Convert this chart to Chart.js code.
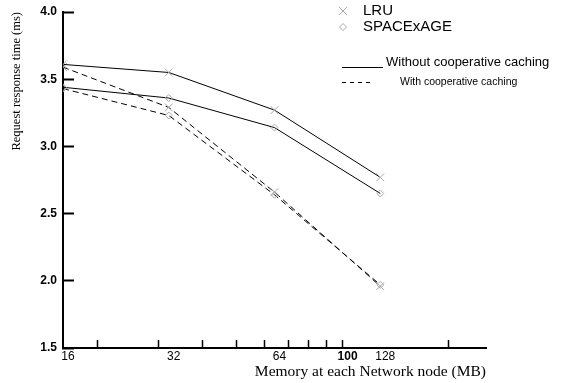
<!DOCTYPE html>
<html>
<head>
<meta charset="utf-8">
<script src="https://cdn.jsdelivr.net/npm/chart.js@4/dist/chart.umd.min.js"></script>
<style>
  html, body { margin: 0; padding: 0; background: #fff; }
  #chart { display: block; }
</style>
</head>
<body>
<canvas id="chart" width="564" height="383"></canvas>
<script>
// Memory sizes (MB) on the log x axis
const memorySizes = [16, 32, 64, 128];

// Request response time (ms)
const lruWithout = [3.61, 3.55, 3.27, 2.77];
const spaceWithout = [3.44, 3.36, 3.14, 2.65];
const lruWith = [3.59, 3.29, 2.66, 1.96];
const spaceWith = [3.43, 3.23, 2.64, 1.97];

// x axis: where the tick marks sit, and which values get a label
const xTickMarks = [20, 30, 40, 50, 60, 70, 80, 90, 100, 200];
const xTickLabels = [16, 32, 64, 100, 128];
const yTicks = [1.5, 2.0, 2.5, 3.0, 3.5, 4.0];

const markerGray = '#a8a8a8';

// Build one line dataset
function series(label, values, marker, dashed) {
  return {
    label: label,
    data: memorySizes.map((m, i) => ({ x: m, y: values[i] })),
    borderColor: '#000',
    borderWidth: 1,
    borderDash: dashed ? [6, 4] : [],
    pointStyle: marker,
    pointRadius: marker === 'crossRot' ? 5.5 : 3.5,
    pointBorderColor: markerGray,
    pointBackgroundColor: 'rgba(0,0,0,0)',
    pointBorderWidth: 1,
    tension: 0
  };
}

// Hand-drawn legend in the top right, like the original figure
const figureLegend = {
  id: 'figureLegend',
  afterDraw(chart) {
    const ctx = chart.ctx;
    ctx.save();
    ctx.strokeStyle = markerGray;
    ctx.lineWidth = 1;

    // x marker
    ctx.beginPath();
    ctx.moveTo(339, 7); ctx.lineTo(347, 15);
    ctx.moveTo(347, 7); ctx.lineTo(339, 15);
    ctx.stroke();
    // diamond marker
    ctx.beginPath();
    ctx.moveTo(339.5, 27); ctx.lineTo(343, 23.5); ctx.lineTo(346.5, 27); ctx.lineTo(343, 30.5);
    ctx.closePath();
    ctx.stroke();

    ctx.fillStyle = '#000';
    ctx.textBaseline = 'middle';
    ctx.font = '15px "Liberation Sans", Arial, sans-serif';
    ctx.fillText('LRU', 363, 11);
    ctx.fillText('SPACExAGE', 363, 27);

    ctx.strokeStyle = '#000';
    ctx.beginPath();
    ctx.moveTo(342, 67.5); ctx.lineTo(383, 67.5);
    ctx.stroke();
    ctx.setLineDash([4, 4]);
    ctx.beginPath();
    ctx.moveTo(342, 82.5); ctx.lineTo(372, 82.5);
    ctx.stroke();
    ctx.setLineDash([]);

    ctx.font = '13px "Liberation Sans", Arial, sans-serif';
    ctx.fillText('Without cooperative caching', 386, 62);
    ctx.font = '10.5px "Liberation Sans", Arial, sans-serif';
    ctx.fillText('With cooperative caching', 400, 82);
    ctx.restore();
  }
};

const ctx = document.getElementById('chart').getContext('2d');
Chart.defaults.color = '#000';

new Chart(ctx, {
  type: 'line',
  data: {
    datasets: [
      series('LRU without cooperative caching', lruWithout, 'crossRot', false),
      series('SPACExAGE without cooperative caching', spaceWithout, 'rectRot', false),
      series('LRU with cooperative caching', lruWith, 'crossRot', true),
      series('SPACExAGE with cooperative caching', spaceWith, 'rectRot', true)
    ]
  },
  options: {
    responsive: false,
    animation: false,
    layout: { padding: { top: 12, right: 78, left: 0, bottom: 0 } },
    plugins: {
      legend: { display: false },
      tooltip: { enabled: false }
    },
    scales: {
      x: {
        type: 'logarithmic',
        min: 16,
        max: 256,
        afterBuildTicks: scale => {
          const all = xTickMarks.concat(xTickLabels.filter(v => !xTickMarks.includes(v)));
          scale.ticks = all.sort((a, b) => a - b).map(v => ({ value: v }));
        },
        afterFit: scale => {
          scale.height = 35;
          scale.paddingLeft = 0;
          scale.paddingRight = 0;
        },
        border: { display: true, color: '#000', width: 2 },
        grid: {
          display: true,
          drawOnChartArea: false,
          tickLength: -8,
          tickWidth: 1.5,
          tickColor: c => (c.tick && xTickMarks.includes(c.tick.value)) ? '#000' : 'rgba(0,0,0,0)'
        },
        ticks: {
          autoSkip: false,
          maxRotation: 0,
          padding: 9,
          labelOffset: 5,
          font: c => ({
            family: '"Liberation Sans", Arial, sans-serif',
            size: 12,
            weight: (c.tick && c.tick.value === 100) ? 'bold' : 'normal'
          }),
          callback: v => xTickLabels.includes(v) ? String(v) : ''
        },
        title: {
          display: true,
          text: 'Memory at each Network node (MB)',
          align: 'end',
          font: { family: '"Liberation Serif", "Times New Roman", serif', size: 15.5 },
          padding: { top: 0, bottom: 2 }
        }
      },
      y: {
        type: 'linear',
        min: 1.5,
        max: 4.0,
        afterBuildTicks: scale => { scale.ticks = yTicks.map(v => ({ value: v })); },
        afterFit: scale => {
          scale.width = 63;
          scale.paddingTop = 0;
          scale.paddingBottom = 0;
        },
        border: { display: true, color: '#000', width: 2 },
        grid: {
          display: true,
          drawOnChartArea: false,
          tickLength: -11,
          tickWidth: 2,
          tickColor: '#000'
        },
        ticks: {
          padding: 17,
          font: { family: '"Liberation Sans", Arial, sans-serif', size: 12, weight: 'bold' },
          callback: v => Number(v).toFixed(1)
        },
        title: {
          display: true,
          text: 'Request response time (ms)',
          align: 'end',
          font: { family: '"Liberation Serif", "Times New Roman", serif', size: 12.5 },
          padding: { top: 9, bottom: 0 }
        }
      }
    }
  },
  plugins: [figureLegend]
});
</script>
</body>
</html>
